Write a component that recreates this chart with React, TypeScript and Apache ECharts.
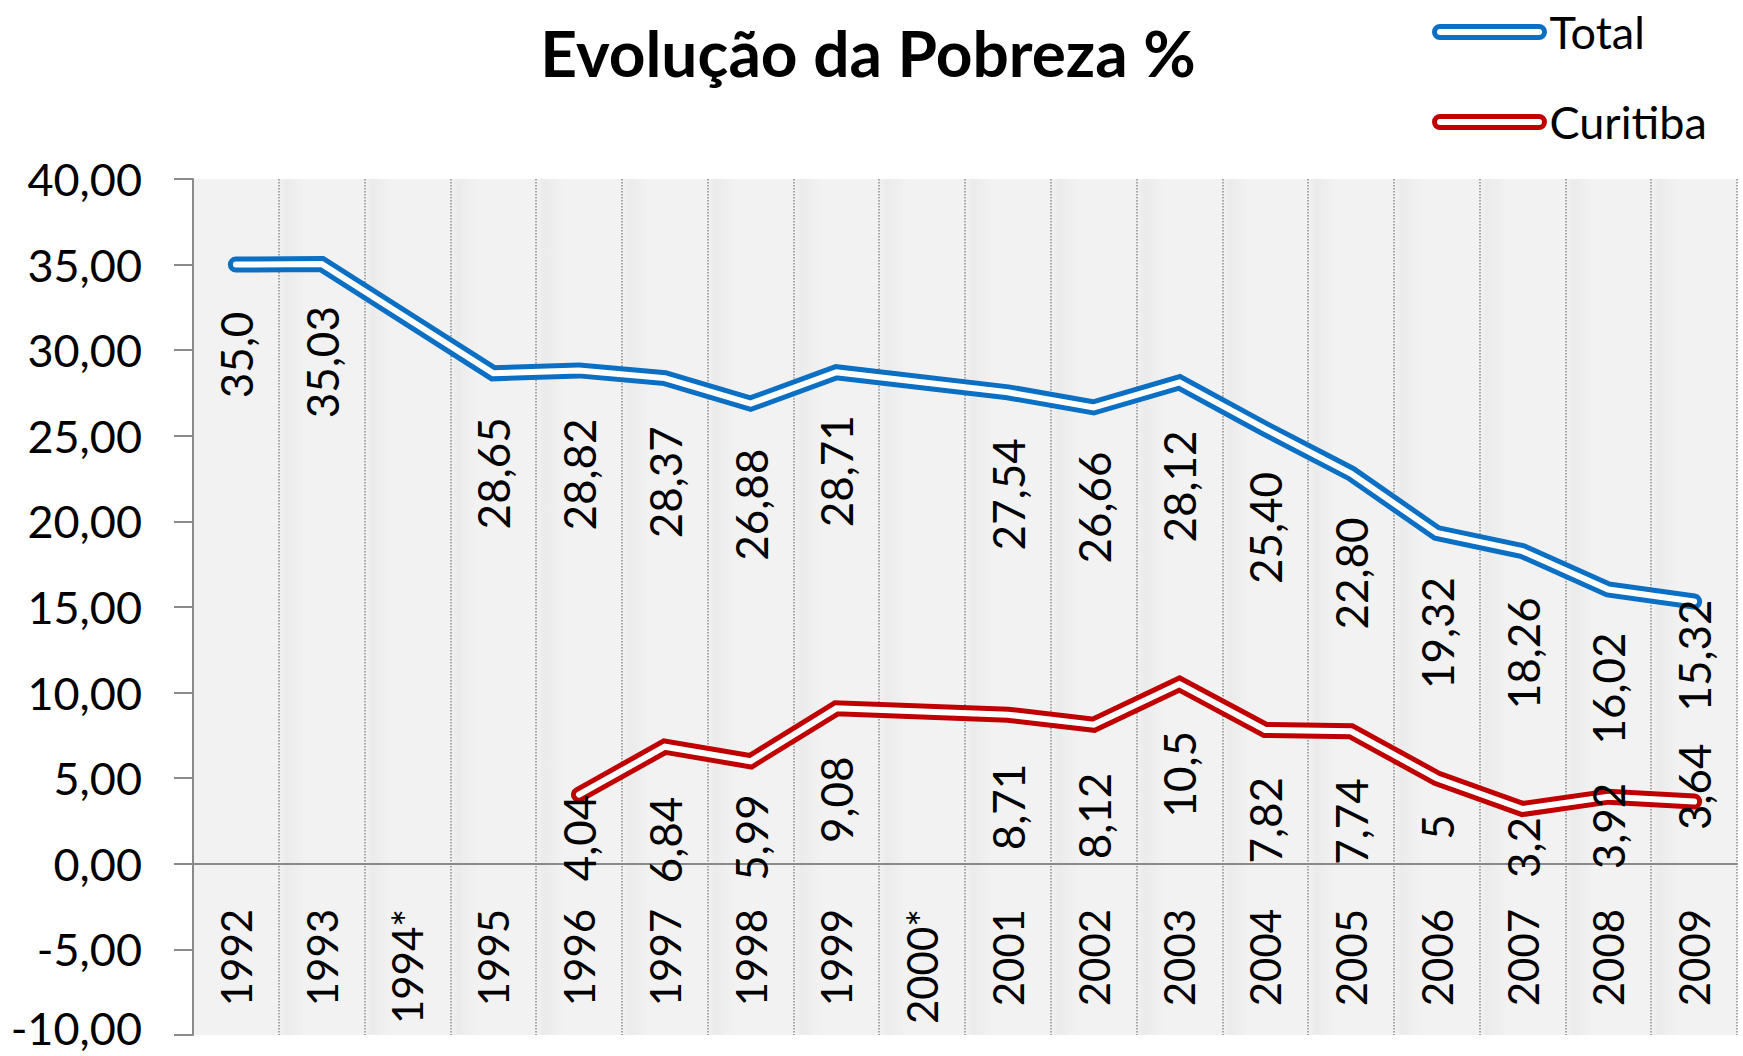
import React, { useEffect, useRef } from "react";
import * as echarts from "echarts";

const categories = [
  "1992", "1993", "1994*", "1995", "1996", "1997", "1998", "1999", "2000*",
  "2001", "2002", "2003", "2004", "2005", "2006", "2007", "2008", "2009",
];

const totalValues: (number | null)[] = [
  35.0, 35.03, null, 28.65, 28.82, 28.37, 26.88, 28.71, null,
  27.54, 26.66, 28.12, 25.4, 22.8, 19.32, 18.26, 16.02, 15.32,
];
const totalLabelText = [
  "35,0", "35,03", "", "28,65", "28,82", "28,37", "26,88", "28,71", "",
  "27,54", "26,66", "28,12", "25,40", "22,80", "19,32", "18,26", "16,02", "15,32",
];

const curitibaValues: (number | null)[] = [
  null, null, null, null, 4.04, 6.84, 5.99, 9.08, null,
  8.71, 8.12, 10.5, 7.82, 7.74, 5, 3.2, 3.92, 3.64,
];

// label gap below each point (layout only)
const totalLabelGap = [47, 42, 0, 44, 48, 48, 45, 43, 0, 46, 44, 48, 43, 44, 44, 46, 43, -2];
const curitibaLabelGap = [0, 0, 0, 0, 0, 50, 33, 48, 0, 49, 48, 47, 47, 47, 36, 8, -14, -58];

const yTicks = { min: -10, max: 40, interval: 5 };

const BLUE = "#0b6fc3";
const RED = "#c00000";
const FONT = "Lato";

const GRID_TOP = 179;
const GRID_BOTTOM = 21;
const CHART_H = 1056;

const fmt = (v: number) => v.toFixed(2).replace(".", ",");

export default function App() {
  const ref = useRef<HTMLDivElement>(null);

  useEffect(() => {
    if (!ref.current) return;
    const chart = echarts.init(ref.current, undefined, { renderer: "svg" });

    const mkData = (vals: (number | null)[], gaps: number[]) =>
      vals.map((v, i) => (v == null ? null : { value: v, label: { distance: gaps[i] } }));

    const labelBase = {
      show: true,
      position: "bottom" as const,
      rotate: 90,
      align: "right" as const,
      verticalAlign: "middle" as const,
      fontSize: 44,
      fontFamily: FONT,
      color: "#000",
    };

    // distance from grid bottom to the zero line, so the category axis sits on 0
    const gridH = CHART_H - GRID_TOP - GRID_BOTTOM;
    const zeroOffset = (gridH * (0 - yTicks.min)) / (yTicks.max - yTicks.min);

    const capsule = "path://M5.5,0 L104.5,0 A5.5,5.5 0 0 1 104.5,11 L5.5,11 A5.5,5.5 0 0 1 5.5,0 Z";

    // soft shading to the right of each vertical gridline (plot-area decoration)
    const shade = new echarts.graphic.LinearGradient(0, 0, 1, 0, [
      { offset: 0, color: "#f2f2f2" },
      { offset: 0.09, color: "#ebebeb" },
      { offset: 0.32, color: "#f2f2f2" },
      { offset: 1, color: "#f2f2f2" },
    ]);
    const bandColors = categories.map((_, i) => (i === 0 ? "#f2f2f2" : shade));

    chart.setOption({
      animation: false,
      backgroundColor: "#ffffff",
      title: {
        text: "Evolução da Pobreza %",
        left: 868,
        top: 20,
        textAlign: "center",
        padding: 0,
        textStyle: { fontFamily: FONT, fontSize: 64, fontWeight: "bold", color: "#000", lineHeight: 64 },
      },
      legend: {
        orient: "vertical",
        left: 1432,
        top: 7,
        padding: 0,
        itemWidth: 110,
        itemHeight: 11,
        itemGap: 40,
        selectedMode: false,
        textStyle: { fontFamily: FONT, fontSize: 45, color: "#000", lineHeight: 50 },
        data: [
          { name: "Total", icon: capsule, itemStyle: { color: "#ffffff", borderColor: BLUE, borderWidth: 5 } },
          { name: "Curitiba", icon: capsule, itemStyle: { color: "#ffffff", borderColor: RED, borderWidth: 5 } },
        ],
      },
      grid: {
        left: 193,
        right: 6,
        top: GRID_TOP,
        bottom: GRID_BOTTOM,
        containLabel: false,
        outerBoundsMode: "none",
        show: true,
        backgroundColor: "#f2f2f2",
        borderWidth: 0,
      },
      xAxis: {
        type: "category",
        data: categories,
        boundaryGap: true,
        position: "bottom",
        offset: -zeroOffset,
        axisLine: { show: true, onZero: false, lineStyle: { color: "#8a8a8a", width: 2 } },
        axisTick: { show: false },
        axisLabel: {
          rotate: 90,
          margin: 45,
          fontSize: 42,
          fontFamily: FONT,
          color: "#000",
          interval: 0,
        },
        splitLine: { show: true, lineStyle: { color: "#8c8c8c", width: 1.5, type: "dotted" } },
        splitArea: { show: true, interval: 0, areaStyle: { color: bandColors } },
      },
      yAxis: {
        type: "value",
        min: yTicks.min,
        max: yTicks.max,
        interval: yTicks.interval,
        axisLine: { show: true, lineStyle: { color: "#8a8a8a", width: 2 } },
        axisTick: { show: true, length: 19, lineStyle: { color: "#8a8a8a", width: 2 } },
        axisLabel: {
          margin: 51,
          fontSize: 45,
          fontFamily: FONT,
          color: "#000",
          formatter: (v: number) => (v === yTicks.min ? `{m|${fmt(v)}}` : fmt(v)),
          rich: {
            m: { fontSize: 45, fontFamily: FONT, color: "#000", padding: [0, 0, 14, 0] },
          },
        },
        splitLine: { show: false },
      },
      series: [
        {
          name: "Total",
          type: "line",
          data: totalValues,
          connectNulls: true,
          showSymbol: false,
          silent: true,
          z: 2,
          lineStyle: { color: BLUE, width: 16, cap: "round", join: "miter" },
          itemStyle: { color: BLUE },
        },
        {
          name: "Total",
          type: "line",
          data: mkData(totalValues, totalLabelGap),
          connectNulls: true,
          showSymbol: true,
          symbol: "circle",
          symbolSize: 0,
          silent: true,
          z: 3,
          lineStyle: { color: "#ffffff", width: 6, cap: "round", join: "miter" },
          itemStyle: { color: "rgba(0,0,0,0)" },
          label: { ...labelBase, formatter: (p: any) => totalLabelText[p.dataIndex] },
        },
        {
          name: "Curitiba",
          type: "line",
          data: curitibaValues,
          connectNulls: true,
          showSymbol: false,
          silent: true,
          z: 4,
          lineStyle: { color: RED, width: 16, cap: "round", join: "miter" },
          itemStyle: { color: RED },
        },
        {
          name: "Curitiba",
          type: "line",
          data: mkData(curitibaValues, curitibaLabelGap),
          connectNulls: true,
          showSymbol: true,
          symbol: "circle",
          symbolSize: 0,
          silent: true,
          z: 5,
          lineStyle: { color: "#ffffff", width: 6, cap: "round", join: "miter" },
          itemStyle: { color: "rgba(0,0,0,0)" },
          label: {
            ...labelBase,
            formatter: (p: any) => String(curitibaValues[p.dataIndex]).replace(".", ","),
          },
        },
      ],
    });

    return () => chart.dispose();
  }, []);

  return (
    <div
      ref={ref}
      style={{ position: "absolute", left: 0, top: 0, width: 1743, height: 1056 }}
    />
  );
}
